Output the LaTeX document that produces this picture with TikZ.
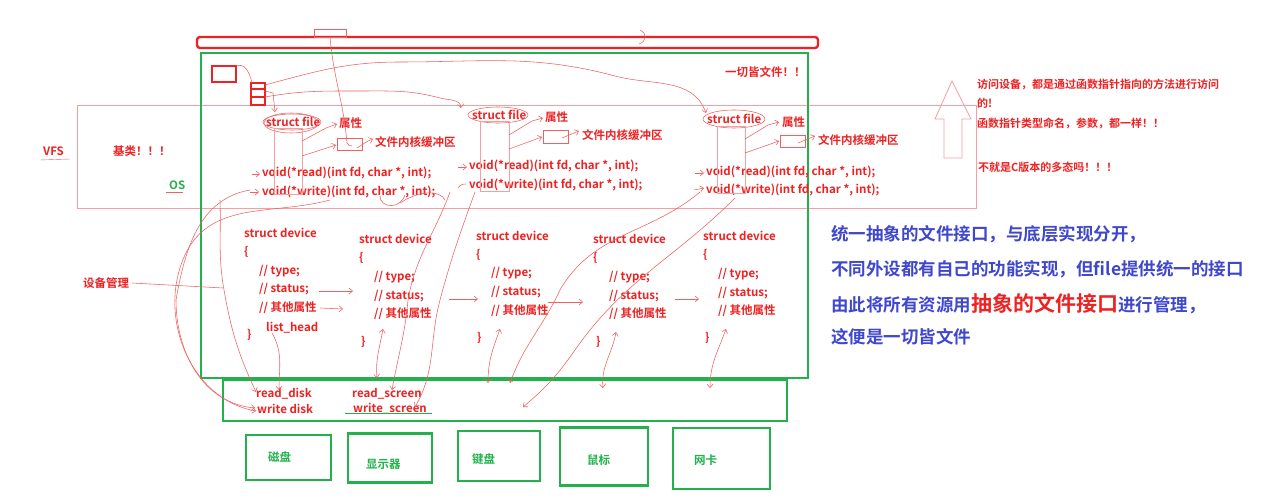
\documentclass[tikz,border=0pt]{standalone}
\usepackage{fontspec}
\setmainfont{Noto Sans CJK SC}[BoldFont={* Bold}]
\usetikzlibrary{arrows.meta}
\definecolor{pr}{HTML}{EE2222}
\definecolor{pg}{HTML}{22B14C}
\definecolor{pb}{HTML}{3F48CC}
\definecolor{pk}{HTML}{F4A0A0}
\definecolor{hl}{HTML}{F06060}
\tikzset{
  rt/.style={text=pr, font=\bfseries\fontsize{11.5}{13}\selectfont, inner sep=0pt, anchor=west},
  gt/.style={text=pg, font=\bfseries\fontsize{11.5}{13}\selectfont, inner sep=0pt, anchor=west},
  bt/.style={text=pb, font=\bfseries\fontsize{17.5}{20}\selectfont, inner sep=0pt, anchor=west},
  hand/.style={draw=hl, line width=0.55pt},
  harr/.style={hand, -{Straight Barb[length=3.5pt,width=6pt]}},
  hdbl/.style={hand, {Straight Barb[length=3.5pt,width=6pt]}-{Straight Barb[length=3.5pt,width=6pt]}},
  gbox/.style={draw=pg, line width=2.6pt},
}
\begin{document}
\begin{tikzpicture}[x=1pt,y=-1pt]
\useasboundingbox[fill=white] (0,0) rectangle (1280,500);
% frames
\draw[pk, line width=0.8pt] (77,105) rectangle (976,208);
\draw[pr, line width=2.4pt, rounded corners=3pt] (197,37) rectangle (818,48);
\draw[hl, line width=0.6pt] (314,29) rectangle (346,37);
\draw[gbox] (201,53) rectangle (808,378);
\draw[gbox] (223,380) rectangle (787,421);
\draw[pr, line width=2pt] (212,66) rectangle (236,82);
\draw[pr, line width=2pt] (251,83) rectangle (265,105);
\draw[pr, line width=1.5pt] (251,89) -- (265,89) (251,97) -- (265,97);
\draw[pk, line width=0.8pt] (944,158) -- (944,119) -- (935,119) -- (952,81) -- (971,119) -- (962,119) -- (962,158) -- cycle;
% device boxes
\node[gbox, minimum width=85pt, minimum height=45pt] (disk) at (288.5,457.5) {};
\node[gbox, minimum width=84pt, minimum height=49pt] (scr) at (390,458) {};
\node[gbox, minimum width=82pt, minimum height=50pt] (kbd) at (499,456) {};
\node[gbox, minimum width=88pt, minimum height=58pt] (mouse) at (604,456.5) {};
\node[gbox, minimum width=97pt, minimum height=61pt] (nic) at (721.5,458.5) {};
\node[gt] (tdisk) at (268,457) {磁盘};
\node[gt] (tscr) at (366,464) {显示器};
\node[gt] (tkbd) at (472,459) {键盘};
\node[gt] (tmouse) at (587,460) {鼠标};
\node[gt] (tnic) at (694,460) {网卡};
% top texts
\node[rt] (all) at (725,72) {一切皆文件！！};
\node[rt] (vfs) at (43,151) {VFS};
\draw[hl] (40,160) -- (70,159);
\node[rt] (base) at (113,151) {基类！！！};
\node[gt] (os) at (169,185) {OS};
\draw[hl] (166,192) -- (183,192);
% struct file columns
\node[rt] (sf1) at (266,122) {struct file};
\node[rt] (sx1) at (339,123) {属性};
\node[draw=hl, line width=0.6pt, minimum width=25pt, minimum height=12pt, inner sep=0pt] (bx1) at (349.5,144) {};
\node[rt] (buf1) at (375,142) {文件内核缓冲区};
\node[rt] (rd1) at (262,173) {void(*read)(int fd, char *, int);};
\node[rt] (wr1) at (262,192) {void(*write)(int fd, char *, int);};
\node[rt] (sf2) at (472,115) {struct file};
\node[rt] (sx2) at (545,117) {属性};
\node[draw=hl, line width=0.6pt, minimum width=25pt, minimum height=13pt, inner sep=0pt] (bx2) at (555.5,136.5) {};
\node[rt] (buf2) at (582,135) {文件内核缓冲区};
\node[rt] (rd2) at (469,166) {void(*read)(int fd, char *, int);};
\node[rt] (wr2) at (469,185) {void(*write)(int fd, char *, int);};
\node[rt] (sf3) at (707,119) {struct file};
\node[rt] (sx3) at (782,122) {属性};
\node[draw=hl, line width=0.6pt, minimum width=25pt, minimum height=12pt, inner sep=0pt] (bx3) at (792.5,141) {};
\node[rt] (buf3) at (818,140) {文件内核缓冲区};
\node[rt] (rd3) at (706,172) {void(*read)(int fd, char *, int);};
\node[rt] (wr3) at (706,190) {void(*write)(int fd, char *, int);};
% struct devices
\node[rt] (d1) at (244,233) {struct device};
\node[rt] at (244,252) {\{};
\node[rt] at (259,271) {// type;};
\node[rt] (st1) at (259,289) {// status;};
\node[rt] (ot1) at (259,308) {// 其他属性};
\node[rt] (lh) at (266,328) {list\_head};
\node[rt] (cb1) at (247,335) {\}};
\node[rt] (d2) at (359,239) {struct device};
\node[rt] at (359,258) {\{};
\node[rt] at (374,277) {// type;};
\node[rt] (st2) at (374,296) {// status;};
\node[rt] (ot2) at (374,314) {// 其他属性};
\node[rt] (cb2) at (361,342) {\}};
\node[rt] (d3) at (476,236) {struct device};
\node[rt] at (476,255) {\{};
\node[rt] at (491,273) {// type;};
\node[rt] (st3) at (491,292) {// status;};
\node[rt] (ot3) at (491,311) {// 其他属性};
\node[rt] (cb3) at (477,338) {\}};
\node[rt] (d4) at (593,239) {struct device};
\node[rt] at (593,258) {\{};
\node[rt] at (609,277) {// type;};
\node[rt] (st4) at (609,296) {// status;};
\node[rt] (ot4) at (609,314) {// 其他属性};
\node[rt] (cb4) at (596,342) {\}};
\node[rt] (d5) at (703,236) {struct device};
\node[rt] at (703,255) {\{};
\node[rt] at (718,274) {// type;};
\node[rt] (st5) at (718,293) {// status;};
\node[rt] (ot5) at (718,311) {// 其他属性};
\node[rt] (cb5) at (705,338) {\}};
\node[rt] (mgr) at (83,283) {设备管理};
% bottom functions
\node[rt] (rdisk) at (256,394) {read\_disk};
\node[rt] (wdisk) at (257,409) {write disk};
\node[rt] (rscr) at (352,394) {read\_screen};
\node[rt] (wscr) at (353,409) {write\_screen};
\draw[pg, line width=1pt] (345,413) -- (432,413);
% right texts
\node[rt, font=\bfseries\fontsize{11}{13}\selectfont] (n1) at (977,85) {访问设备，都是通过函数指针指向的方法进行访问};
\node[rt, font=\bfseries\fontsize{11}{13}\selectfont] (n2) at (977,103) {的!};
\node[rt, font=\bfseries\fontsize{11}{13}\selectfont] (n3) at (977,123) {函数指针类型命名，参数，都一样！！};
\node[rt, font=\bfseries\fontsize{11}{13}\selectfont] (n4) at (978,167) {不就是C版本的多态吗！！！};
\node[bt] (b1) at (831,234) {统一抽象的文件接口，与底层实现分开，};
\node[bt] (b2) at (831,269) {不同外设都有自己的功能实现，但file提供统一的接口};
\node[bt] (b3) at (831,304) {由此将所有资源用{\color{pr}\fontsize{21}{22}\selectfont 抽象的文件接口}进行管理，};
\node[bt] (b4) at (831,337) {这便是一切皆文件};
% ---- hand-drawn strokes ----
\draw[hand] (236,66) .. controls (244,63) and (249,70) .. (252,83);
\draw[harr] (265,85) to[out=15,in=180] (400,62) to[out=0,in=165] (615,76) to[out=-15,in=110] (706,113);
\draw[harr] (265,97) to[out=10,in=180] (360,91) to[out=0,in=165] (440,98) to[out=-15,in=95] (461,108);
\draw[harr] (265,91) -- (273,93) -- (275,112);
\draw[hand] (330,37) to[out=-85,in=95] (347,143) to[out=-60,in=180] (352,146);
\draw[hand] (640,30) .. controls (648,34) and (646,42) .. (639,44);
\draw[hand] (292,122) ellipse (29 and 8);
\draw[hand] (291,123) ellipse (27 and 10);
\draw[hand] (498,115) ellipse (30 and 8);
\draw[hand] (734,119) ellipse (31 and 9);
\draw[hand, draw=pk] (274,128) rectangle (302,194);
\draw[hand, draw=pk] (480,121) rectangle (509,191);
\draw[hand, draw=pk] (717,126) rectangle (745,193);
\draw[harr] (302,141) -- (326,128) -- (337,124);
\draw[harr] (302,156) -- (336,145);
\draw[harr] (509,135) -- (532,121) -- (543,118);
\draw[harr] (509,149) -- (542,137);
\draw[harr] (745,139) -- (768,125) -- (779,122);
\draw[harr] (745,153) -- (779,141);
\draw[harr] (357,148) -- (368,141) -- (373,139);
\draw[harr] (562,138) -- (579,131);
\draw[harr] (798,143) -- (815,136);
\draw[harr] (252,174) -- (260,174);
\draw[harr] (250,192) -- (259,192);
\draw[harr] (458,167) -- (467,167);
\draw[hand] (458,188) to[out=60,in=180] (466,184);
\draw[harr] (695,173) -- (704,173);
\draw[harr] (694,190) -- (704,188);
\draw[hand] (400,203) .. controls (420,190) and (440,190) .. (445,200);
\draw[hand] (380,196) .. controls (380,208) and (400,210) .. (405,195);
% bottom strokes
\draw[harr] (250,190) to[out=190,in=80] (176,300) to[out=-90,in=175] (255,408);
\draw[harr] (330,200) to[out=195,in=65] (185,255) to[out=-115,in=170] (256,411);
\draw[harr] (220,200) to[out=-88,in=100] (224,290) to[out=-80,in=115] (256,392);
\draw[harr] (272,333) to[out=-60,in=90] (279,390);
\draw[hand] (132,283) -- (223,288);
\draw[harr] (319,291) -- (353,291);
\draw[harr] (320,308) -- (343,309);
\draw[harr] (449,299) -- (478,299);
\draw[harr] (548,302) -- (583,302);
\draw[harr] (675,299) -- (699,299);
\draw[hdbl] (377,378) to[out=95,in=-100] (383,329);
\draw[hdbl] (488,383) to[out=90,in=-110] (500,329);
\draw[hdbl] (603,388) to[out=95,in=-100] (616,332);
\draw[hdbl] (710,388) to[out=90,in=-110] (726,329);
\draw[harr] (450,192) to[out=-110,in=80] (408,300) to[out=-95,in=80] (392,390);
\draw[harr] (475,192) to[out=-110,in=75] (440,300) to[out=-105,in=60] (415,407);
\draw[harr] (700,192) to[out=-140,in=60] (560,290) to[out=-115,in=70] (510,383);
\draw[harr] (735,198) to[out=-135,in=55] (575,350) to[out=-125,in=40] (523,407);
\end{tikzpicture}
\end{document}
